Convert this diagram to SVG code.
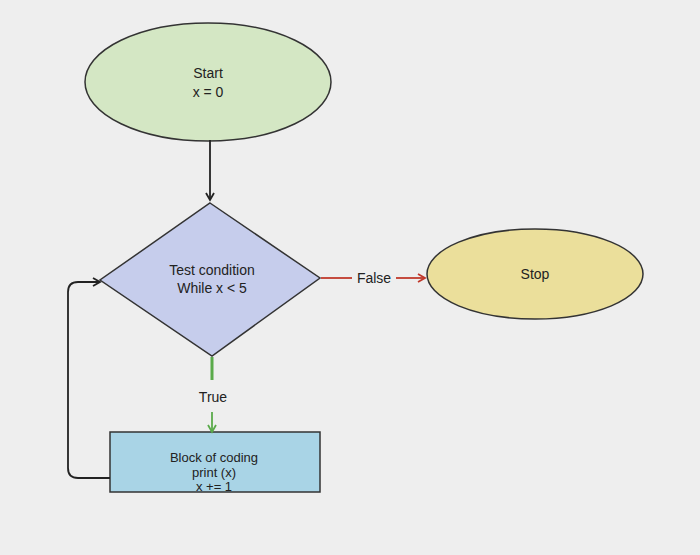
<svg xmlns="http://www.w3.org/2000/svg" width="700" height="555" viewBox="0 0 700 555">
<defs>
<style>
.t{font-family:"Liberation Sans",Arial,sans-serif;font-size:14px;fill:#222;text-anchor:middle}
.s{font-size:13px}
.n{stroke:#333;stroke-width:1.5}
</style>
<marker id="ak" markerWidth="10" markerHeight="10" refX="8" refY="5" orient="auto" markerUnits="userSpaceOnUse"><path d="M1,1 L8,5 L1,9" fill="none" stroke="#222" stroke-width="1.8"/></marker>
<marker id="ar" markerWidth="10" markerHeight="10" refX="8" refY="5" orient="auto" markerUnits="userSpaceOnUse"><path d="M1,1 L8,5 L1,9" fill="none" stroke="#c0392b" stroke-width="1.8"/></marker>
<marker id="ag" markerWidth="10" markerHeight="10" refX="8" refY="5" orient="auto" markerUnits="userSpaceOnUse"><path d="M1,1 L8,5 L1,9" fill="none" stroke="#5aaa4a" stroke-width="1.8"/></marker>
</defs>
<rect width="700" height="555" fill="#eeeeee"/>
<g id="start"><ellipse class="n" cx="208" cy="82" rx="123" ry="59" fill="#d4e7c4"/>
<text class="t" x="208" y="78">Start</text><text class="t" x="208" y="97">x = 0</text></g>
<g id="test"><polygon class="n" points="210,203 320,278 212,356 100,280" fill="#c6cdec"/>
<text class="t" x="212" y="275">Test condition</text><text class="t" x="212" y="293">While x &lt; 5</text></g>
<g id="stop"><ellipse class="n" cx="535" cy="274" rx="108" ry="45" fill="#ebdf9b"/>
<text class="t" x="535" y="279">Stop</text></g>
<g id="block"><rect class="n" x="110" y="432" width="210" height="60" fill="#a9d4e6"/>
<text class="t s" x="214" y="462">Block of coding</text><text class="t s" x="214" y="477">print (x)</text><text class="t s" x="214" y="491">x += 1</text></g>
<g id="connectors" fill="none" stroke-width="1.8">
<line x1="210" y1="140" x2="210" y2="200" stroke="#222" marker-end="url(#ak)"/>
<line x1="321" y1="278" x2="352" y2="278" stroke="#c0392b"/>
<text class="t" x="374" y="283">False</text>
<line x1="396" y1="278" x2="425" y2="278" stroke="#c0392b" marker-end="url(#ar)"/>
<line x1="212" y1="357" x2="212" y2="380" stroke="#5aaa4a" stroke-width="3"/>
<text class="t" x="213" y="402">True</text>
<line x1="212" y1="412" x2="212" y2="432" stroke="#5aaa4a" marker-end="url(#ag)"/>
<path d="M110,478 H78 Q68,478 68,468 V292 Q68,282 78,282 H100" stroke="#222" marker-end="url(#ak)"/>
</g>
</svg>
